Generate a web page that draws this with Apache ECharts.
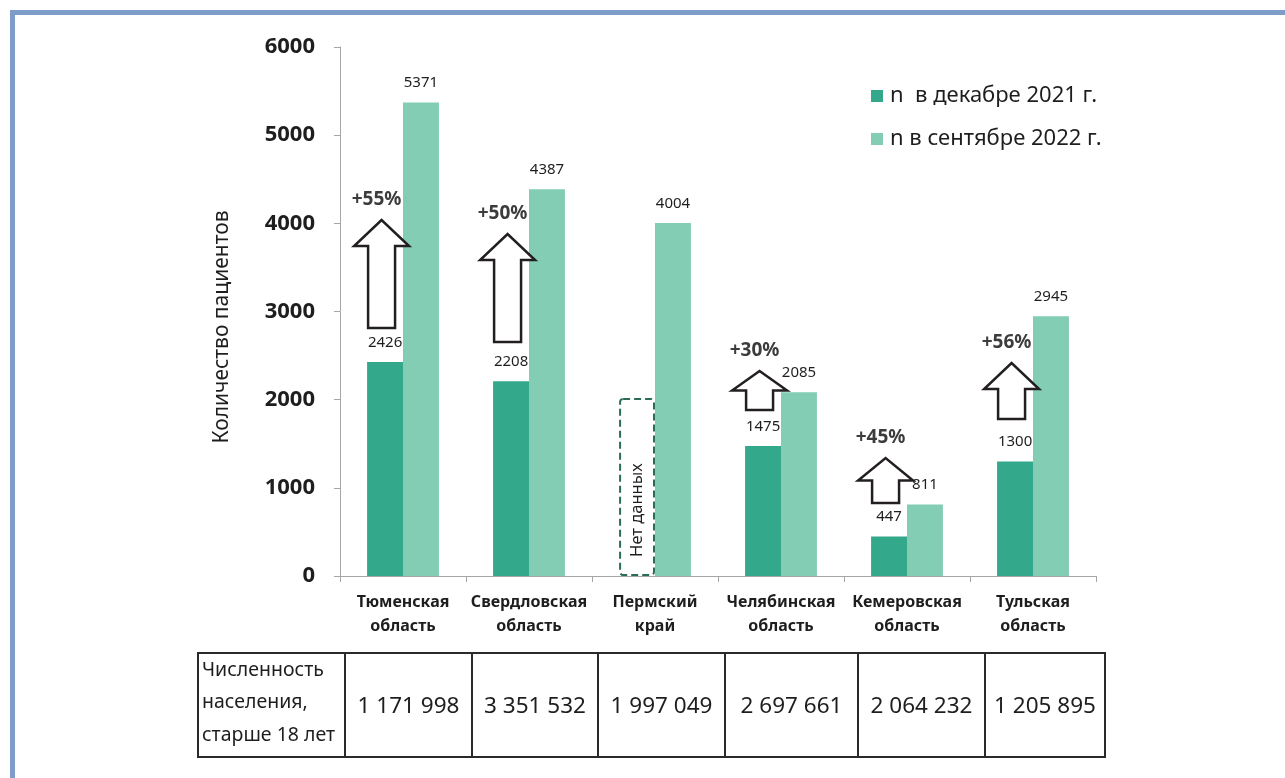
<!DOCTYPE html>
<html>
<head>
<meta charset="utf-8">
<title>Количество пациентов по регионам</title>
<script src="https://cdn.jsdelivr.net/npm/echarts@6.0.0/dist/echarts.min.js"></script>
<style>
  html, body { margin: 0; padding: 0; background: #ffffff; }
  #chart { width: 1285px; height: 778px; }
</style>
</head>
<body>
<div id="chart"></div>
<script>
// ---- data ----
const regions = [
  'Тюменская\nобласть',
  'Свердловская\nобласть',
  'Пермский\nкрай',
  'Челябинская\nобласть',
  'Кемеровская\nобласть',
  'Тульская\nобласть'
];
const seriesNames = ['n  в декабре 2021 г.', 'n в сентябре 2022 г.'];
const dec2021 = [2426, 2208, null, 1475, 447, 1300];
const sep2022 = [5371, 4387, 4004, 2085, 811, 2945];
const noDataText = 'Нет данных';
const noDataHeight = 2020;               // placeholder height of the "no data" frame
// growth arrows: [category index, from value, to value]
const growthArrows = [[0, 2813, 4038], [1, 2654, 3879], [3, 1883, 2325], [4, 828, 1338], [5, 1781, 2416]];
const growthLabels = ['+55%', '+50%', '+30%', '+45%', '+56%'];
const yMin = 0, yMax = 6000, yStep = 1000;
const axisTitle = 'Количество пациентов';
const populationHeader = ['Численность', 'населения,', 'старше 18 лет'];
const population = ['1 171 998', '3 351 532', '1 997 049', '2 697 661', '2 064 232', '1 205 895'];

// ---- styling ----
const FONT = '"Noto Sans", "DejaVu Sans", sans-serif';
const DARK = '#33a88a';
const LIGHT = '#82cdb4';
const TEXT = '#1e1e1e';

const chart = echarts.init(document.getElementById('chart'), null, { renderer: 'canvas' });

const darkData = dec2021.map(v => v == null ? {
  value: noDataHeight,
  itemStyle: {
    color: 'rgba(0,0,0,0)',
    borderColor: '#2b6b59',
    borderWidth: 2,
    borderType: [7, 4],
    borderRadius: 3
  },
  label: {
    show: true,
    position: ['50%', '63%'],
    rotate: 90,
    align: 'center',
    verticalAlign: 'middle',
    formatter: noDataText,
    fontSize: 16.5
  }
} : v);

// table geometry
const colEdges = [198, 345, 472, 598, 725, 858, 985, 1105];
const tableTop = 653, tableBottom = 757;
const tableChildren = [{
  type: 'rect',
  shape: { x: colEdges[0], y: tableTop, width: colEdges[colEdges.length - 1] - colEdges[0], height: tableBottom - tableTop },
  style: { fill: 'none', stroke: '#2a2a2a', lineWidth: 2 }
}];
for (let i = 1; i < colEdges.length - 1; i++) {
  tableChildren.push({
    type: 'line',
    shape: { x1: colEdges[i], y1: tableTop, x2: colEdges[i], y2: tableBottom },
    style: { stroke: '#2a2a2a', lineWidth: 2 }
  });
}
populationHeader.forEach((t, i) => {
  tableChildren.push({
    type: 'text', x: colEdges[0] + 4, y: 670 + i * 32.5,
    style: { text: t, font: '19.5px ' + FONT, fill: TEXT, align: 'left', verticalAlign: 'middle' }
  });
});
population.forEach((t, i) => {
  tableChildren.push({
    type: 'text', x: (colEdges[i + 1] + colEdges[i + 2]) / 2, y: 707,
    style: { text: t, font: '22.5px ' + FONT, fill: TEXT, align: 'center', verticalAlign: 'middle' }
  });
});

const option = {
  backgroundColor: '#ffffff',
  animation: false,
  textStyle: { fontFamily: FONT },
  grid: { left: 340, top: 47, width: 756, height: 529 },
  legend: {
    data: seriesNames,
    orient: 'vertical',
    left: 866,
    top: 80,
    itemWidth: 12,
    itemHeight: 12,
    itemGap: 21,
    icon: 'rect',
    textStyle: { fontSize: 22, color: TEXT, fontFamily: FONT, padding: [0, 0, 0, 2] }
  },
  xAxis: {
    type: 'category',
    data: regions,
    axisLine: { lineStyle: { color: '#a6a6a6', width: 1 } },
    axisTick: { show: true, length: 6, lineStyle: { color: '#a6a6a6' } },
    axisLabel: {
      interval: 0, margin: 14, fontSize: 16, fontWeight: 'bold',
      lineHeight: 24, color: TEXT, fontFamily: FONT
    }
  },
  yAxis: {
    type: 'value',
    min: yMin, max: yMax, interval: yStep,
    axisLine: { show: true, lineStyle: { color: '#a6a6a6', width: 1 } },
    axisTick: { show: true, length: 6, lineStyle: { color: '#a6a6a6' } },
    splitLine: { show: false },
    axisLabel: {
      margin: 25, fontSize: 22, fontWeight: 'bold', color: TEXT, fontFamily: FONT,
      formatter: v => String(v)
    }
  },
  series: [
    {
      name: seriesNames[0],
      type: 'bar',
      barGap: '0%',
      barCategoryGap: '43%',
      data: darkData,
      itemStyle: { color: DARK },
      label: { show: true, position: 'top', distance: 12, fontSize: 15, color: TEXT, fontFamily: FONT }
    },
    {
      name: seriesNames[1],
      type: 'bar',
      data: sep2022,
      itemStyle: { color: LIGHT },
      label: { show: true, position: 'top', distance: 12, fontSize: 15, color: TEXT, fontFamily: FONT }
    },
    {
      // block arrows marking the growth between the two dates
      type: 'custom',
      z: 10,
      silent: true,
      data: growthArrows,
      renderItem: function (params, api) {
        const idx = api.value(0);
        const band = api.size([1, 0])[0];
        const cx = api.coord([idx, 0])[0] - band * 0.17;
        const yBase = api.coord([idx, api.value(1)])[1];
        const yTip = api.coord([idx, api.value(2)])[1];
        const shaft = band * 0.107;
        const head = band * 0.218;
        const headH = Math.min(26, (yBase - yTip) * 0.5);
        const yNeck = yTip + headH;
        return {
          type: 'group',
          children: [
            {
              type: 'polygon',
              shape: {
                points: [
                  [cx - shaft, yBase], [cx - shaft, yNeck], [cx - head, yNeck],
                  [cx, yTip], [cx + head, yNeck], [cx + shaft, yNeck], [cx + shaft, yBase]
                ]
              },
              style: { fill: '#ffffff', stroke: '#231f20', lineWidth: 2.5, lineJoin: 'miter' }
            },
            {
              type: 'text',
              x: cx - 5,
              y: yTip - 20,
              style: {
                text: growthLabels[params.dataIndex],
                font: 'bold 19px ' + FONT,
                fill: '#3c3c3c',
                align: 'center',
                verticalAlign: 'middle'
              }
            }
          ]
        };
      }
    }
  ],
  graphic: [
    // page frame
    { type: 'rect', shape: { x: 10, y: 10, width: 1275, height: 5 }, style: { fill: '#7f9dc9' } },
    { type: 'rect', shape: { x: 10, y: 10, width: 5, height: 768 }, style: { fill: '#7f9dc9' } },
    // vertical axis title
    {
      type: 'text', x: 222, y: 327, rotation: Math.PI / 2,
      style: { text: axisTitle, font: '21px ' + FONT, fill: TEXT, align: 'center', verticalAlign: 'middle' }
    },
    // population table
    { type: 'group', children: tableChildren }
  ]
};

chart.setOption(option);
</script>
</body>
</html>
